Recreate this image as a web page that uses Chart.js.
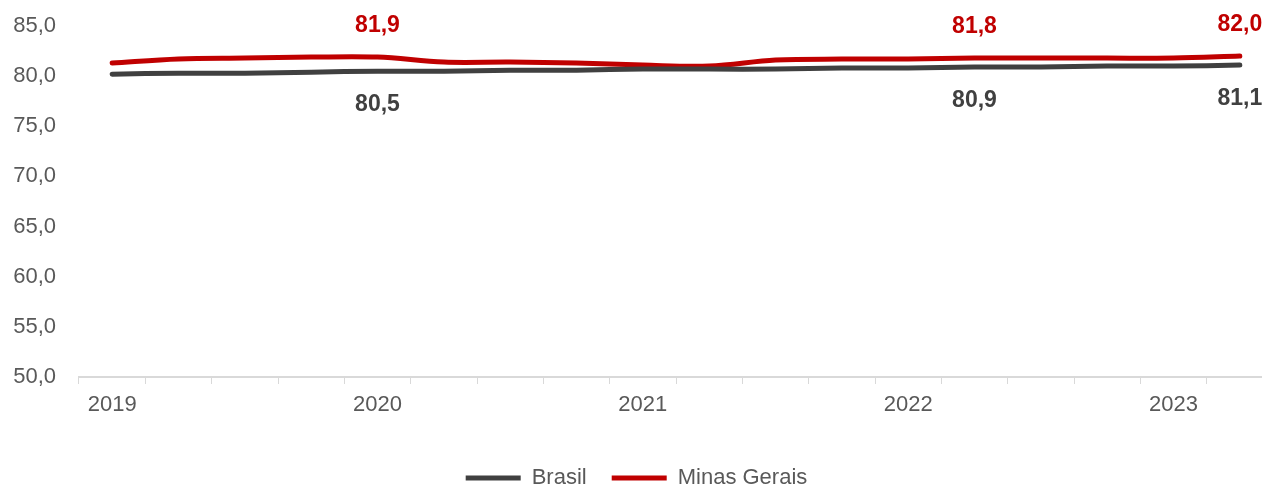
<!DOCTYPE html>
<html lang="pt-BR">
<head>
<meta charset="utf-8">
<title>Brasil x Minas Gerais</title>
<script src="https://cdn.jsdelivr.net/npm/chart.js@4.4.0/dist/chart.umd.min.js"></script>
<style>
    html, body { margin: 0; padding: 0; background: #ffffff; overflow: hidden; }
    #caixa { width: 1273px; height: 499px; position: relative; }
</style>
</head>
<body>
<div id="caixa"><canvas id="graficoTaxa"></canvas></div>
<script>
// Dados (trimestral, 2019 T1 ate 2023 T2)
const trimestres = [
    "2019", "", "", "",
    "2020", "", "", "",
    "2021", "", "", "",
    "2022", "", "", "",
    "2023", ""
];
const valoresBrasil = [80.2, 80.3, 80.3, 80.4, 80.5, 80.5, 80.6, 80.6, 80.7, 80.7, 80.7, 80.8, 80.8, 80.9, 80.9, 81.0, 81.0, 81.1];
const valoresMinas  = [81.3, 81.7, 81.8, 81.9, 81.9, 81.4, 81.4, 81.3, 81.1, 81.0, 81.6, 81.7, 81.7, 81.8, 81.8, 81.8, 81.8, 82.0];

// indices que recebem rotulo
const rotulosBrasil = [4, 13, 17];
const rotulosMinas = [4, 13, 17];

const corBrasil = "#404040";
const corMinas = "#c00000";
const corTexto = "#595959";
const corEixo = "#d9d9d9";

const formatar = v => v.toFixed(1).replace(".", ",");

// Plugin simples pros rotulos de dados
const pluginRotulos = {
    id: "rotulos",
    afterDatasetsDraw(chart) {
        const ctx = chart.ctx;
        ctx.save();
        ctx.font = "bold 23px 'Liberation Sans', Arial, sans-serif";
        ctx.textAlign = "center";
        ctx.textBaseline = "middle";

        chart.data.datasets.forEach((ds, i) => {
            const meta = chart.getDatasetMeta(i);
            const indices = i === 0 ? rotulosBrasil : rotulosMinas;
            const desloc = i === 0 ? 34 : -31;
            ctx.fillStyle = ds.borderColor;
            indices.forEach(idx => {
                const p = meta.data[idx];
                ctx.fillText(formatar(ds.data[idx]), p.x, p.y + desloc);
            });
        });
        ctx.restore();
    }
};

const ctx = document.getElementById("graficoTaxa").getContext("2d");

new Chart(ctx, {
    type: "line",
    data: {
        labels: trimestres,
        datasets: [
            {
                label: "Brasil",
                data: valoresBrasil,
                borderColor: corBrasil,
                backgroundColor: corBrasil,
                borderWidth: 5,
                borderCapStyle: "round",
                pointRadius: 0,
                tension: 0.35
            },
            {
                label: "Minas Gerais",
                data: valoresMinas,
                borderColor: corMinas,
                backgroundColor: corMinas,
                borderWidth: 5,
                borderCapStyle: "round",
                pointRadius: 0,
                tension: 0.35
            }
        ]
    },
    options: {
        responsive: true,
        maintainAspectRatio: false,
        animation: false,
        layout: { padding: { top: 26, left: 0, right: 0, bottom: 0 } },
        plugins: {
            tooltip: { enabled: false },
            legend: {
                position: "bottom",
                labels: {
                    usePointStyle: true,
                    pointStyle: "line",
                    pointStyleWidth: 55,
                    padding: 25,
                    color: corTexto,
                    font: { size: 22, family: "'Liberation Sans', Arial, sans-serif" }
                }
            }
        },
        scales: {
            x: {
                offset: true,
                grid: {
                    offset: true,
                    drawOnChartArea: false,
                    drawTicks: true,
                    tickLength: 7,
                    color: corEixo
                },
                border: { color: corEixo, width: 2 },
                ticks: {
                    autoSkip: false,
                    maxRotation: 0,
                    padding: 8,
                    color: corTexto,
                    font: { size: 22, family: "'Liberation Sans', Arial, sans-serif" }
                },
                afterFit: s => { s.height = 65; }
            },
            y: {
                min: 50,
                max: 85,
                // espaco entre rotulo e area via tickLength (grade oculta)
                grid: { display: false, drawTicks: true, tickLength: 20 },
                border: { display: false },
                ticks: {
                    stepSize: 5,
                    padding: 3,
                    color: corTexto,
                    font: { size: 22, family: "'Liberation Sans', Arial, sans-serif" },
                    callback: v => formatar(v)
                },
                afterFit: s => { s.width = 79; }
            }
        }
    },
    plugins: [pluginRotulos]
});
</script>
</body>
</html>
